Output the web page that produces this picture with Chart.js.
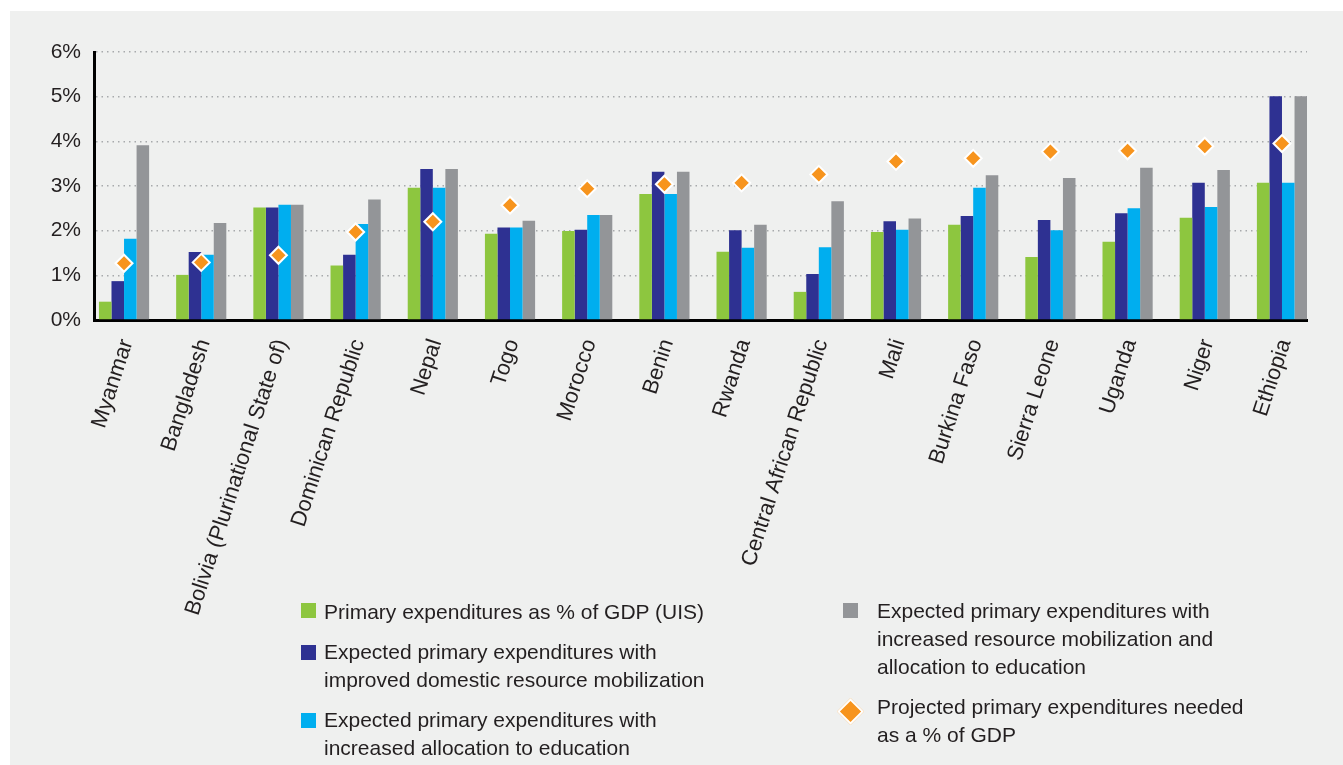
<!DOCTYPE html>
<html>
<head>
<meta charset="utf-8">
<script src="https://cdn.jsdelivr.net/npm/chart.js@4.4.1/dist/chart.umd.min.js"></script>
<style>
    html, body { margin: 0; padding: 0; background: #ffffff; }
    #panel { position: absolute; left: 10px; top: 11px; width: 1333px; height: 754px; background: #eff0ef; }
    #chart { position: absolute; left: 0; top: 0; }
    .item { position: absolute; font-family: "Liberation Sans", Arial, sans-serif; font-size: 21px; line-height: 28px; color: #231f20; white-space: nowrap; }
    .swatch { position: absolute; width: 15px; height: 15px; }
    .diamond { position: absolute; width: 15px; height: 15px; background: #f7941d; border: 2px solid #ffffff; transform: rotate(45deg); }
</style>
</head>
<body>
<div id="panel"></div>
<canvas id="chart" width="1343" height="765"></canvas>

<div class="swatch" style="left:301px; top:603px; background:#8dc63f;"></div>
<div class="item" style="left:324px; top:598px;">Primary expenditures as % of GDP (UIS)</div>

<div class="swatch" style="left:301px; top:645px; background:#2e3192;"></div>
<div class="item" style="left:324px; top:638px;">Expected primary expenditures with<br>improved domestic resource mobilization</div>

<div class="swatch" style="left:301px; top:713px; background:#00aeef;"></div>
<div class="item" style="left:324px; top:706px;">Expected primary expenditures with<br>increased allocation to education</div>

<div class="swatch" style="left:843px; top:603px; background:#939598;"></div>
<div class="item" style="left:877px; top:597px;">Expected primary expenditures with<br>increased resource mobilization and<br>allocation to education</div>

<div class="diamond" style="left:841px; top:702px;"></div>
<div class="item" style="left:877px; top:693px;">Projected primary expenditures needed<br>as a % of GDP</div>

<script>
const countries = [
    "Myanmar", "Bangladesh", "Bolivia (Plurinational State of)", "Dominican Republic",
    "Nepal", "Togo", "Morocco", "Benin", "Rwanda", "Central African Republic",
    "Mali", "Burkina Faso", "Sierra Leone", "Uganda", "Niger", "Ethiopia",
];

// % of GDP
const uisSpending = [0.41, 1.01, 2.52, 1.22, 2.96, 1.93, 1.99, 2.82, 1.53, 0.63, 1.97, 2.13, 1.41, 1.75, 2.29, 3.07];
const withMobilization = [0.87, 1.52, 2.52, 1.46, 3.38, 2.07, 2.02, 3.32, 2.01, 1.03, 2.21, 2.33, 2.24, 2.39, 3.07, 5.01];
const withAllocation = [1.82, 1.46, 2.58, 2.15, 2.96, 2.07, 2.35, 2.82, 1.62, 1.63, 2.02, 2.96, 2.01, 2.50, 2.53, 3.07];
const withBoth = [3.91, 2.17, 2.58, 2.70, 3.38, 2.22, 2.35, 3.32, 2.13, 2.66, 2.27, 3.24, 3.18, 3.41, 3.36, 5.01];
const neededSpending = [1.27, 1.29, 1.45, 1.97, 2.20, 2.57, 2.94, 3.04, 3.07, 3.26, 3.55, 3.62, 3.77, 3.79, 3.89, 3.95];

const yTicks = [0, 1, 2, 3, 4, 5, 6];

const toPoints = (values) => values.map((v, i) => ({ x: i, y: v }));

const barSet = (label, values, color) => ({
    type: "bar",
    label: label,
    data: toPoints(values),
    backgroundColor: color,
    borderWidth: 0,
    categoryPercentage: 0.65,
    barPercentage: 1.0,
    order: 1,
});

const datasets = [
    barSet("Primary expenditures as % of GDP (UIS)", uisSpending, "#8dc63f"),
    barSet("Expected primary expenditures with improved domestic resource mobilization", withMobilization, "#2e3192"),
    barSet("Expected primary expenditures with increased allocation to education", withAllocation, "#00aeef"),
    barSet("Expected primary expenditures with increased resource mobilization and allocation to education", withBoth, "#939598"),
    {
        type: "line",
        label: "Projected primary expenditures needed as a % of GDP",
        data: toPoints(neededSpending),
        showLine: false,
        pointStyle: "rectRot",
        pointRadius: 8.5,
        pointBackgroundColor: "#f7941d",
        pointBorderColor: "#ffffff",
        pointBorderWidth: 2,
        order: 0,
    },
];

const tickFont = { family: "'Liberation Sans', Arial, sans-serif", size: 21 };

const options = {
    responsive: false,
    animation: false,
    layout: {
        padding: { left: 0, top: 52, right: 36, bottom: 0 },
    },
    plugins: {
        legend: { display: false },
        tooltip: { enabled: false },
    },
    scales: {
        x: {
            type: "linear",
            offset: false,
            // half a gap left of Myanmar, Ethiopia flush with the end of the axis
            min: -0.389,
            max: 15.324,
            afterFit(scale) {
                scale.height = 445;
            },
            ticks: {
                stepSize: 1,
                includeBounds: false,
                autoSkip: false,
                maxTicksLimit: 40,
                minRotation: 72,
                maxRotation: 72,
                padding: 8,
                labelOffset: 3,
                color: "#231f20",
                font: { family: "'Liberation Sans', Arial, sans-serif", size: 22 },
                callback: (value) => countries[value],
            },
            grid: { display: false },
            border: { display: true, color: "#000000", width: 3 },
        },
        y: {
            min: 0,
            max: 6,
            afterFit(scale) {
                scale.width = 94;
            },
            afterBuildTicks(scale) {
                scale.ticks = yTicks.map((v) => ({ value: v }));
            },
            ticks: {
                padding: 13,
                color: "#231f20",
                font: tickFont,
                callback: (value) => value + "%",
            },
            grid: {
                color: "#a7a9ac",
                lineWidth: 1.5,
                drawTicks: false,
            },
            border: { display: true, color: "#000000", width: 3, dash: [1.5, 4] },
        },
    },
};

new Chart(document.getElementById("chart").getContext("2d"), {
    data: { datasets },
    options,
});
</script>
</body>
</html>
